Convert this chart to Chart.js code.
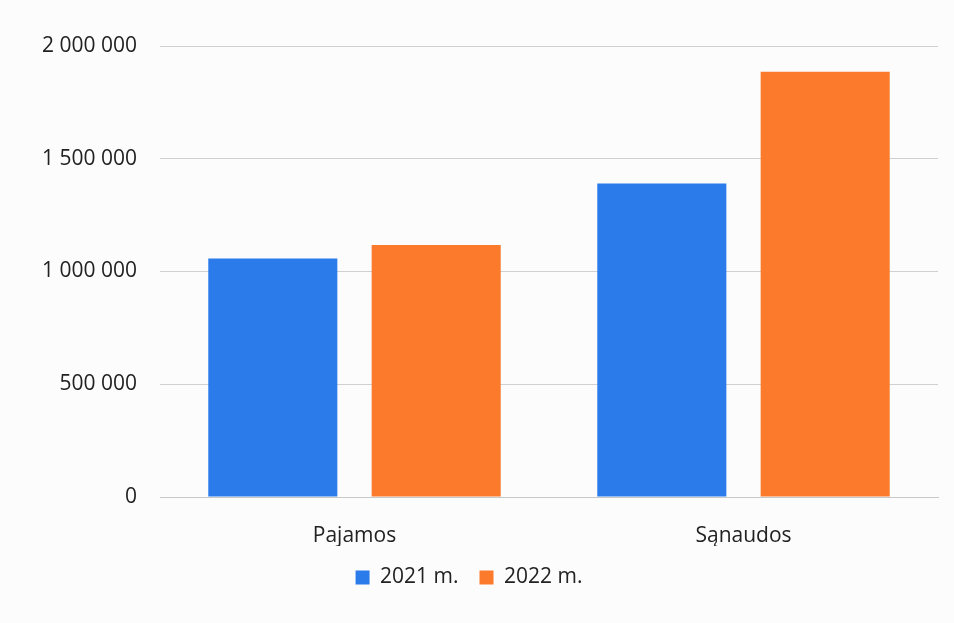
<!DOCTYPE html>
<html>
<head>
<meta charset="utf-8">
<script src="https://cdn.jsdelivr.net/npm/chart.js@4"></script>
<style>
  html, body { margin: 0; padding: 0; background: #fcfcfc; }
  #wrap { width: 954px; height: 623px; position: relative; }
</style>
</head>
<body>
<div id="wrap"><canvas id="myChart"></canvas></div>
<script>
const categories = ['Pajamos', 'Sąnaudos'];
const seriesNames = ['2021 m.', '2022 m.'];
const values2021 = [1058000, 1390000];
const values2022 = [1117000, 1886000];
const yTicks = [0, 500000, 1000000, 1500000, 2000000];

const fmt = v => String(v).replace(/\B(?=(\d{3})+(?!\d))/g, ' ');

const data = {
  labels: categories,
  datasets: [
    {
      label: seriesNames[0],
      data: values2021,
      backgroundColor: '#2b7bea',
      barPercentage: 0.79,
      categoryPercentage: 0.84
    },
    {
      label: seriesNames[1],
      data: values2022,
      backgroundColor: '#fb7a2c',
      barPercentage: 0.79,
      categoryPercentage: 0.84
    }
  ]
};

const options = {
  responsive: true,
  maintainAspectRatio: false,
  animation: false,
  layout: {
    padding: { top: 46, right: 16, bottom: 25, left: 0 }
  },
  plugins: {
    legend: {
      position: 'bottom',
      labels: {
        color: '#222',
        font: { family: 'Open Sans', size: 21 },
        boxWidth: 14,
        boxHeight: 14,
        padding: 21
      }
    },
    tooltip: { enabled: false }
  },
  scales: {
    x: {
      grid: { display: false, drawTicks: false },
      border: { display: true, color: '#c8c8c8', width: 1 },
      ticks: {
        color: '#222',
        font: { family: 'Open Sans', size: 21 },
        padding: 26
      },
      afterFit: s => { s.height = 49; }
    },
    y: {
      min: 0,
      max: 2000000,
      afterBuildTicks: s => { s.ticks = yTicks.map(v => ({ value: v })); },
      grid: { color: '#d0d0d0', lineWidth: 1, drawTicks: false },
      border: { display: false },
      ticks: {
        color: '#222',
        font: { family: 'Open Sans', size: 21 },
        padding: 23,
        callback: v => fmt(v)
      },
      afterFit: s => { s.width = 160; }
    }
  }
};

new Chart(document.getElementById('myChart'), {
  type: 'bar',
  data: data,
  options: options
});
</script>
</body>
</html>
